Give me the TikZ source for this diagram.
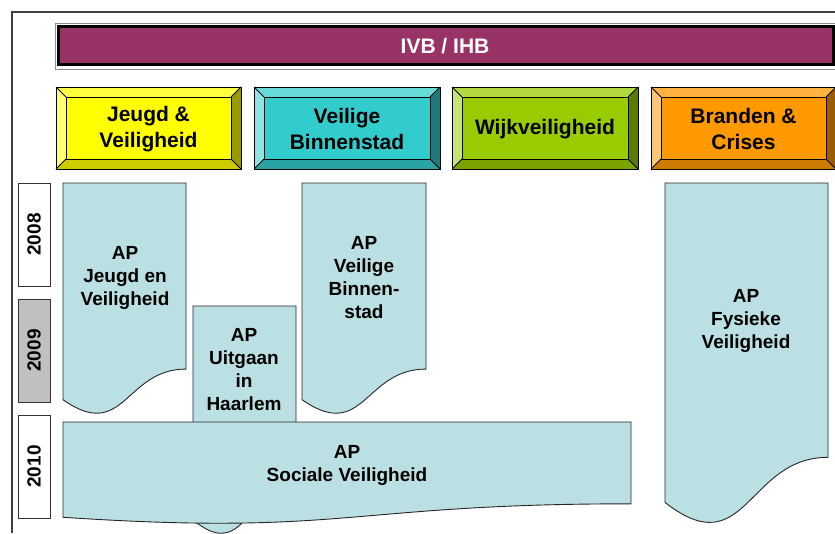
\documentclass[tikz,border=0pt]{standalone}
\usepackage{fontspec}
\setmainfont{Liberation Sans}
\definecolor{ivbpurple}{HTML}{993366}
\definecolor{apblue}{HTML}{BBE0E3}
\definecolor{jvyellow}{HTML}{FFFF00}
\definecolor{vbteal}{HTML}{33CCCC}
\definecolor{wkgreen}{HTML}{99CC00}
\definecolor{bcorange}{HTML}{FF9900}
\definecolor{yeargray}{HTML}{C0C0C0}
\definecolor{framegray}{HTML}{404040}

% bevelled theme box: x1, x2, colour, name, text
\newcommand{\catbox}[5]{%
  \fill[#3!75!white] (#1,87) -- (#2,87) -- ({#2-10},97) -- ({#1+10},97) -- cycle;
  \fill[#3!55!white] (#1,87) -- ({#1+10},97) -- ({#1+10},159) -- (#1,169) -- cycle;
  \fill[#3!80!black] (#1,169) -- ({#1+10},159) -- ({#2-10},159) -- (#2,169) -- cycle;
  \fill[#3!60!black] (#2,87) -- ({#2-10},97) -- ({#2-10},159) -- (#2,169) -- cycle;
  \draw[catline, fill=#3] ({#1+10},97) rectangle ({#2-10},159);
  \draw[catline] (#1,87) rectangle (#2,169);
  \draw[catline] (#1,87) -- ({#1+10},97) (#2,87) -- ({#2-10},97)
    (#1,169) -- ({#1+10},159) (#2,169) -- ({#2-10},159);
  \node[cattext] (#4) at ({(#1+#2)/2},129) {#5};
}

% action plan sheet with wavy foot: x1, y1, x2, h
\newcommand{\apsheet}[4]{%
  \filldraw[apline] (#1,#2) -- (#3,#2) -- (#3,{#2+0.802*#4})
    .. controls ({(#1+#3)/2},{#2+0.802*#4}) and ({(#1+#3)/2},{#2+1.12*#4}) ..
    (#1,{#2+0.934*#4}) -- cycle;
}

\begin{document}
\begin{tikzpicture}[x=1pt, y=-1pt,
    catline/.style={draw=black, line width=0.9pt},
    cattext/.style={align=center, font=\fontsize{21}{26}\selectfont\bfseries},
    apline/.style={draw=black!85, fill=apblue, line width=0.9pt},
    aptext/.style={align=center, font=\fontsize{19}{23}\selectfont\bfseries},
    yearbox/.style={draw=black!80, line width=0.8pt, rotate=90, inner sep=0pt,
      minimum width=103pt, minimum height=32pt, font=\fontsize{19}{23}\selectfont\bfseries}]
  \useasboundingbox (0,0) rectangle (835,533);

  % frame
  \draw[framegray, line width=1.2pt] (12,533) -- (12,12) -- (836,12);

  % top bar
  \draw[black!45, line width=0.8pt] (55,23) rectangle (838,69);
  \draw[black, fill=ivbpurple, line width=3pt] (58.5,26.5) rectangle (833.5,64.5);
  \node[white, font=\fontsize{21}{25}\selectfont\bfseries] (ivb) at (445,46) {IVB / IHB};

  % themes
  \catbox{56}{241}{jvyellow}{jeugd}{Jeugd \&\\Veiligheid}
  \catbox{254}{440}{vbteal}{binnenstad}{Veilige\\Binnenstad}
  \catbox{452}{638}{wkgreen}{wijk}{Wijkveiligheid}
  \catbox{651}{836}{bcorange}{branden}{Branden \&\\Crises}

  % years
  \node[yearbox, fill=white] (y2008) at (34,234.5) {2008};
  \node[yearbox, fill=yeargray] (y2009) at (34,350.5) {2009};
  \node[yearbox, fill=white] (y2010) at (34,466.5) {2010};

  % action plans
  \apsheet{63}{183}{186}{232}
  \apsheet{302}{183}{426}{232}
  \apsheet{665}{183}{828}{342}
  \apsheet{193}{306}{296}{229}
  \apsheet{63}{422}{631}{102}

  \node[aptext] (apjeugd) at (125,278) {AP\\Jeugd en\\Veiligheid};
  \node[aptext] (apbinnen) at (364,278) {AP\\Veilige\\Binnen-\\stad};
  \node[aptext] (apfysiek) at (746,321) {AP\\Fysieke\\Veiligheid};
  \node[aptext] (apuitgaan) at (244,370) {AP\\Uitgaan\\in\\Haarlem};
  \node[aptext] (apsociaal) at (347,465) {AP\\Sociale Veiligheid};
\end{tikzpicture}
\end{document}
